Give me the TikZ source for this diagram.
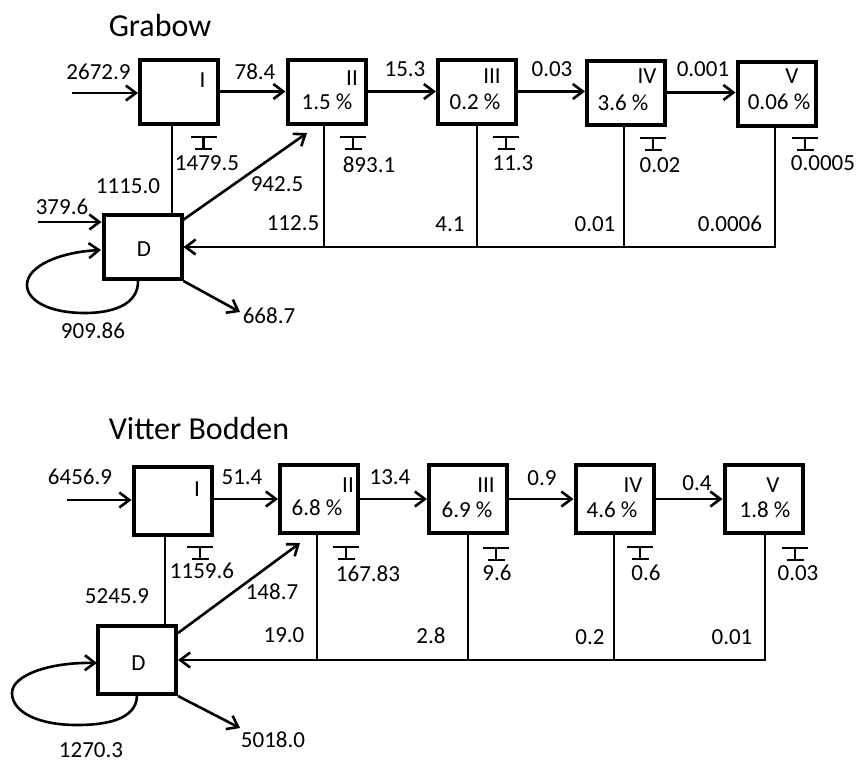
\documentclass[tikz,border=0pt]{standalone}
\usepackage{fontspec}
\setmainfont{Carlito}
\usetikzlibrary{arrows.meta}
\newcommand\sedsym[1]{\draw[sedline] (#1) ++(-13,0) -- ++(26,0) ++(-13,0) -- ++(0,12) ++(-8.5,0) -- ++(17,0);}
\begin{document}
\begin{tikzpicture}[x=0.5pt,y=-0.5pt,
  box/.style={draw,line width=2pt,minimum width=39pt,minimum height=32pt,inner sep=0pt},
  boxV/.style={box,minimum height=34pt},
  lbl/.style={inner sep=0pt,font=\fontsize{11.5}{13}\selectfont},
  ttl/.style={inner sep=0pt,font=\fontsize{16}{19}\selectfont},
  con/.style={line width=1.3pt},
  arr/.style={con,-{Straight Barb[length=5pt,width=7.5pt,line width=1.3pt]}},
  sedline/.style={line width=1.1pt}
]
\useasboundingbox (0,0) rectangle (856,762);

% ================= Grabow =================
\node[ttl] (gT) at (160,26) {Grabow};
\node[box] (gI)   at (179,91.5)   {};
\node[box] (gII)  at (326.5,91.5) {};
\node[box] (gIII) at (477,91.5)   {};
\node[box] (gIV)  at (626,92.5)   {};
\node[box] (gV)   at (776.5,94)   {};
\node[box] (gD)   at (142.5,247)  {};

\node[lbl] (gIt)   at (202.5,80) {I};
\node[lbl] (gIIt)  at (352,78) {II};
\node[lbl] (gIIp)  at (327,102) {1.5 \%};
\node[lbl] (gIIIt) at (492,76) {III};
\node[lbl] (gIIIp) at (475,102) {0.2 \%};
\node[lbl] (gIVt)  at (647,76) {IV};
\node[lbl] (gIVp)  at (623,103) {3.6 \%};
\node[lbl] (gVt)   at (792,76) {V};
\node[lbl] (gVp)   at (779,102) {0.06 \%};
\node[lbl] (gDt)   at (144,249) {D};

% connectors
\coordinate (gin) at (72,93);
\draw[arr] (gin) -- (gin -| gI.west);
\draw[arr] (gI.east) -- (gI.east -| gII.west);
\draw[arr] (gII.east) -- (gII.east -| gIII.west);
\draw[arr] (gIII.east) -- (gIII.east -| gIV.west);
\draw[arr] (gIV.east) -- (gIV.east -| gV.west);
\coordinate (gIx) at (172,0);
\draw[con] (gIx |- gI.south) -- (gIx |- gD.north);
\coordinate (gDin) at (38,222);
\draw[arr] (gDin) -- (gDin -| gD.west);
\coordinate (gDa) at (183,220);
\coordinate (gIIa) at (307,133);
\draw[arr] (gDa) -- (gIIa);
\coordinate (gIIx) at (324,0);
\coordinate (gIIIx) at (477,0);
\coordinate (gIVx) at (624,0);
\coordinate (gVx) at (775,0);
\draw[arr] (gVx |- gV.south) |- (gD.east);
\draw[con] (gIIx |- gII.south) -- (gIIx |- gD.east);
\draw[con] (gIIIx |- gIII.south) -- (gIIIx |- gD.east);
\draw[con] (gIVx |- gIV.south) -- (gIVx |- gD.east);
\coordinate (gout) at (240,312);
\draw[arr] (gD.south east) -- (gout);
\coordinate (gls) at (138,280);
\coordinate (gle) at (101,250);
\draw[arr] (gls) .. controls (139,306) and (110,313) .. (85,313)
  .. controls (48,313) and (27,300) .. (27,285)
  .. controls (27,266) and (60,252) .. (gle);

% sediment
\sedsym{203.5,137}
\sedsym{353,137}
\sedsym{506,137}
\sedsym{653,138}
\sedsym{805,138}

% labels
\node[lbl] (g1) at (98.5,72) {2672.9};
\node[lbl] (g2) at (255,72) {78.4};
\node[lbl] (g3) at (405,69) {15.3};
\node[lbl] (g4) at (552,69) {0.03};
\node[lbl] (g5) at (703,69) {0.001};
\node[lbl] (g6) at (207,163) {1479.5};
\node[lbl] (g7) at (369,165) {893.1};
\node[lbl] (g8) at (513,163) {11.3};
\node[lbl] (g9) at (660,165) {0.02};
\node[lbl] (g10) at (823,163) {0.0005};
\node[lbl] (g11) at (128,186) {1115.0};
\node[lbl] (g12) at (62,207) {379.6};
\node[lbl] (g13) at (277,184) {942.5};
\node[lbl] (g14) at (293,223) {112.5};
\node[lbl] (g15) at (450,224) {4.1};
\node[lbl] (g16) at (595,224) {0.01};
\node[lbl] (g17) at (730,224) {0.0006};
\node[lbl] (g18) at (269,316) {668.7};
\node[lbl] (g19) at (93,331) {909.86};

% ================= Vitter Bodden =================
\node[ttl] (vT) at (199,428) {Vitter Bodden};
\node[boxV] (vI)   at (172.5,500.5) {};
\node[boxV] (vII)  at (319,499)   {};
\node[boxV] (vIII) at (468,499)   {};
\node[boxV] (vIV)  at (614.5,499) {};
\node[boxV] (vV)   at (763.5,499) {};
\node[boxV] (vD)   at (137,660)   {};

\node[lbl] (vIt)   at (197,489) {I};
\node[lbl] (vIIt)  at (348,485) {II};
\node[lbl] (vIIp)  at (317,508) {6.8 \%};
\node[lbl] (vIIIt) at (486,485) {III};
\node[lbl] (vIIIp) at (467,510) {6.9 \%};
\node[lbl] (vIVt)  at (633,485) {IV};
\node[lbl] (vIVp)  at (612,510) {4.6 \%};
\node[lbl] (vVt)   at (773,485) {V};
\node[lbl] (vVp)   at (765,510) {1.8 \%};
\node[lbl] (vDt)   at (138.5,663) {D};

\coordinate (vin) at (67,500);
\draw[arr] (vin) -- (vin -| vI.west);
\draw[arr] (vI.east |- vII.east) -- (vII.west);
\draw[arr] (vII.east) -- (vIII.west);
\draw[arr] (vIII.east) -- (vIV.west);
\draw[arr] (vIV.east) -- (vV.west);
\coordinate (vIx) at (165,0);
\draw[con] (vIx |- vI.south) -- (vIx |- vD.north);
\coordinate (vDa) at (178,633);
\coordinate (vIIa) at (300,543);
\draw[arr] (vDa) -- (vIIa);
\coordinate (vIIx) at (317,0);
\coordinate (vIIIx) at (468,0);
\coordinate (vIVx) at (614,0);
\coordinate (vVx) at (765,0);
\draw[arr] (vVx |- vV.south) |- (vD.east);
\draw[con] (vIIx |- vII.south) -- (vIIx |- vD.east);
\draw[con] (vIIIx |- vIII.south) -- (vIIIx |- vD.east);
\draw[con] (vIVx |- vIV.south) -- (vIVx |- vD.east);
\coordinate (vout) at (240,728);
\draw[arr] (vD.south east) -- (vout);
\coordinate (vls) at (137,695);
\coordinate (vle) at (97,663);
\draw[arr] (vls) .. controls (137,720) and (105,725) .. (77,725)
  .. controls (38,725) and (12,712) .. (12,693)
  .. controls (12,675) and (50,662) .. (vle);

\sedsym{200,547}
\sedsym{346,547}
\sedsym{496,548}
\sedsym{640,547}
\sedsym{795,548}

\node[lbl] (v1) at (80,477) {6456.9};
\node[lbl] (v2) at (242,477) {51.4};
\node[lbl] (v3) at (390,477) {13.4};
\node[lbl] (v4) at (542,478) {0.9};
\node[lbl] (v5) at (697,483) {0.4};
\node[lbl] (v6) at (202,571) {1159.6};
\node[lbl] (v7) at (368,574) {167.83};
\node[lbl] (v8) at (497,573) {9.6};
\node[lbl] (v9) at (646,573) {0.6};
\node[lbl] (v10) at (798,573) {0.03};
\node[lbl] (v11) at (117,596) {5245.9};
\node[lbl] (v12) at (272,592) {148.7};
\node[lbl] (v13) at (284,635) {19.0};
\node[lbl] (v14) at (431,636) {2.8};
\node[lbl] (v15) at (590,637) {0.2};
\node[lbl] (v16) at (732,637) {0.01};
\node[lbl] (v17) at (273,740) {5018.0};
\node[lbl] (v18) at (91,750) {1270.3};
\end{tikzpicture}
\end{document}
